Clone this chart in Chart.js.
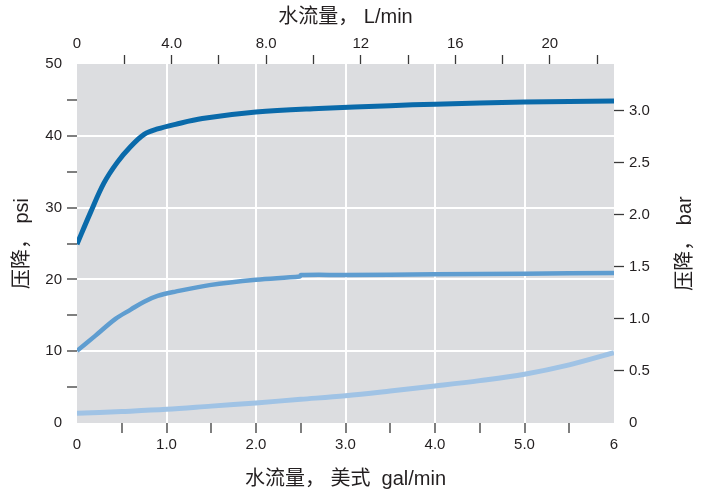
<!DOCTYPE html>
<html>
<head>
<meta charset="utf-8">
<script src="https://cdn.jsdelivr.net/npm/chart.js@4.4.1/dist/chart.umd.min.js"></script>
<style>
  html, body { margin: 0; padding: 0; background: #fff; }
  #wrap { width: 702px; height: 495px; }
</style>
</head>
<body>
<div id="wrap"><canvas id="grafico"></canvas></div>
<script>
// 水流量 (gal/min) 与 压降 (psi)
const highGal = [0, 0.15, 0.3, 0.45, 0.6, 0.75, 0.9, 1.1, 1.4, 2.0, 2.7, 3.5, 4.0, 5.0, 6.0]
const highPsi = [24.9, 29.3, 33.4, 36.3, 38.5, 40.2, 40.95, 41.6, 42.4, 43.3, 43.8, 44.2, 44.4, 44.7, 44.85]

const midGal = [0, 0.2, 0.43, 0.6, 0.75, 0.9, 1.1, 1.48, 2.0, 2.49, 2.5, 3.0, 4.0, 5.0, 6.0]
const midPsi = [10.05, 12.1, 14.5, 15.8, 16.9, 17.7, 18.3, 19.2, 19.95, 20.4, 20.6, 20.62, 20.7, 20.8, 20.9]

const lowGal = [0, 0.5, 1.0, 1.5, 2.0, 2.5, 3.0, 3.5, 4.0, 4.5, 5.0, 5.5, 6.0]
const lowPsi = [1.35, 1.6, 1.9, 2.35, 2.8, 3.3, 3.8, 4.45, 5.15, 5.9, 6.8, 8.1, 9.8]

const galMax = 6
const psiMax = 50
const lpmPerGal = 3.78541
const psiPerBar = 14.5038

const textColor = "#231f20"
const tickMarkColor = "#3a3a3a"
const fontFamily = "'Liberation Sans', 'Noto Sans CJK SC', Arial, sans-serif"

Chart.defaults.font.family = fontFamily
Chart.defaults.font.size = 15
Chart.defaults.color = textColor

function pontos(xs, ys) {
    return xs.map((x, i) => ({ x: x, y: ys[i] }))
}

function inteiro(v) {
    return Math.abs(v - Math.round(v)) < 1e-6
}

const fundo = {
    id: "fundo",
    beforeDraw(chart) {
        const { ctx, chartArea } = chart
        ctx.save()
        ctx.fillStyle = "#ffffff"
        ctx.fillRect(0, 0, chart.width, chart.height)
        ctx.fillStyle = "#dcdde0"
        ctx.fillRect(chartArea.left, chartArea.top, chartArea.right - chartArea.left, chartArea.bottom - chartArea.top)
        ctx.restore()
    },
    afterDraw(chart) {
        // right axis title reads bottom-to-top like the left one
        const { ctx, chartArea } = chart
        ctx.save()
        ctx.fillStyle = textColor
        ctx.font = "20px " + fontFamily
        ctx.textAlign = "center"
        ctx.textBaseline = "middle"
        ctx.translate(685, (chartArea.top + chartArea.bottom) / 2)
        ctx.rotate(-Math.PI / 2)
        ctx.fillText("压降， bar", 0, 0)
        ctx.restore()
    }
}

const linha = (dados, cor, largura) => ({
    data: dados,
    borderColor: cor,
    borderWidth: largura,
    pointRadius: 0,
    fill: false,
    tension: 0.35,
    clip: 0,
    xAxisID: "x",
    yAxisID: "y"
})

const config = {
    type: "line",
    data: {
        datasets: [
            linha(pontos(lowGal, lowPsi), "#a0c3e5", 5),
            linha(pontos(midGal, midPsi), "#5f9dd0", 4.5),
            linha(pontos(highGal, highPsi), "#0a6aaa", 5)
        ]
    },
    options: {
        responsive: true,
        maintainAspectRatio: false,
        animation: false,
        layout: { padding: 0 },
        plugins: {
            legend: { display: false },
            tooltip: { enabled: false }
        },
        scales: {
            x: {
                type: "linear",
                position: "bottom",
                min: 0,
                max: galMax,
                afterFit: s => { s.height = 72 },
                border: { display: false },
                grid: {
                    drawOnChartArea: true,
                    color: c => (c.tick && inteiro(c.tick.value) && c.tick.value > 0 && c.tick.value < galMax) ? "#ffffff" : "rgba(0,0,0,0)",
                    lineWidth: 2,
                    tickColor: c => (c.tick && c.tick.value > 0 && c.tick.value < galMax) ? tickMarkColor : "rgba(0,0,0,0)",
                    tickWidth: 1.3,
                    tickLength: 10
                },
                ticks: {
                    stepSize: 0.5,
                    autoSkip: false,
                    maxRotation: 0,
                    padding: 3,
                    color: textColor,
                    callback: v => {
                        if (!inteiro(v)) return ""
                        if (v === 0 || v === galMax) return String(v)
                        return v.toFixed(1)
                    }
                },
                title: {
                    display: true,
                    text: "水流量， 美式  gal/min",
                    font: { size: 20 },
                    color: textColor,
                    padding: { top: 0, bottom: 3.5 }
                }
            },
            x2: {
                type: "linear",
                position: "top",
                min: 0,
                max: galMax * lpmPerGal,
                afterFit: s => { s.height = 64 },
                border: { display: false },
                grid: {
                    drawOnChartArea: false,
                    color: "rgba(0,0,0,0)",
                    tickColor: c => (c.tick && c.tick.value > 0) ? tickMarkColor : "rgba(0,0,0,0)",
                    tickWidth: 1.3,
                    tickLength: 9
                },
                ticks: {
                    stepSize: 2,
                    includeBounds: false,
                    autoSkip: false,
                    maxRotation: 0,
                    padding: 2,
                    color: textColor,
                    callback: v => {
                        if (Math.round(v) % 4 !== 0) return ""
                        if (v === 0) return "0"
                        return v < 10 ? v.toFixed(1) : String(Math.round(v))
                    }
                },
                title: {
                    display: true,
                    text: "水流量， L/min",
                    font: { size: 20 },
                    color: textColor,
                    padding: { top: 5.5, bottom: 0 }
                }
            },
            y: {
                type: "linear",
                position: "left",
                min: 0,
                max: psiMax,
                afterFit: s => { s.width = 77 },
                border: { display: false },
                grid: {
                    drawOnChartArea: true,
                    color: c => (c.tick && c.tick.value % 10 === 0 && c.tick.value > 0 && c.tick.value < psiMax) ? "#ffffff" : "rgba(0,0,0,0)",
                    lineWidth: 2,
                    tickColor: c => (c.tick && c.tick.value > 0 && c.tick.value < psiMax) ? tickMarkColor : "rgba(0,0,0,0)",
                    tickWidth: 1.3,
                    tickLength: 10
                },
                ticks: {
                    stepSize: 5,
                    autoSkip: false,
                    padding: 5,
                    color: textColor,
                    callback: v => (v % 10 === 0 ? String(v) : "")
                },
                title: {
                    display: true,
                    text: "压降， psi",
                    font: { size: 20 },
                    color: textColor,
                    padding: { top: 10.5, bottom: 0 }
                }
            },
            y2: {
                type: "linear",
                position: "right",
                min: 0,
                max: psiMax / psiPerBar,
                afterFit: s => { s.width = 88 },
                border: { display: false },
                grid: {
                    drawOnChartArea: false,
                    color: "rgba(0,0,0,0)",
                    tickColor: c => (c.tick && c.tick.value > 0) ? tickMarkColor : "rgba(0,0,0,0)",
                    tickWidth: 1.3,
                    tickLength: 10
                },
                ticks: {
                    stepSize: 0.5,
                    includeBounds: false,
                    autoSkip: false,
                    padding: 5,
                    color: textColor,
                    callback: v => (v === 0 ? "0" : v.toFixed(1))
                }
            }
        }
    },
    plugins: [fundo]
}

new Chart(document.getElementById("grafico"), config)
</script>
</body>
</html>
